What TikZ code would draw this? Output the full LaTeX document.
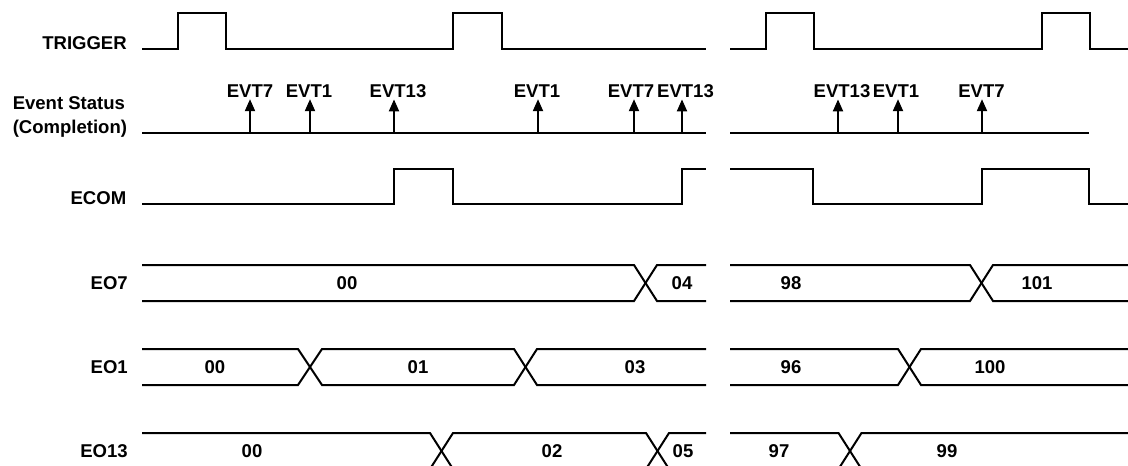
\documentclass[tikz,border=0pt]{standalone}
\usepackage{fontspec}
\setmainfont{Liberation Sans}
\usetikzlibrary{arrows.meta}
\begin{document}
\begin{tikzpicture}[x=0.75pt,y=-0.75pt,
  sig/.style={line width=1.5pt,line join=miter},
  txt/.style={font=\bfseries\fontsize{13.9}{16}\selectfont,inner sep=0pt},
  lbl/.style={txt,anchor=base east},
  lblw/.style={txt,anchor=base west},
  val/.style={txt,anchor=base},
  evarrow/.style={line width=1.5pt,-{Triangle[length=9pt,width=7.5pt]},shorten >=1.2pt}]
\useasboundingbox (0,0) rectangle (1128,465);
\clip (0,0) rectangle (1128,465);
% row labels
\node[lbl] (trig) at (127,49.3) {TRIGGER};
\node[lblw] (evs1) at (12.5,109.5) {Event Status};
\node[lblw] (evs2) at (12.5,133.5) {(Completion)};
\node[lbl] (ecom) at (126.5,204.3) {ECOM};
\node[lbl] (eo7) at (128,289.5) {EO7};
\node[lbl] (eo1) at (128,373.5) {EO1};
\node[lbl] (eo13) at (128,457.5) {EO13};
% TRIGGER
\draw[sig] (142,49) -- (178,49) -- (178,13) -- (226,13) -- (226,49) -- (453,49) -- (453,13) -- (502,13) -- (502,49) -- (706,49);
\draw[sig] (730,49) -- (766,49) -- (766,13) -- (814,13) -- (814,49) -- (1042,49) -- (1042,13) -- (1090,13) -- (1090,49) -- (1128,49);
% Event status
\draw[sig] (142,133) -- (706,133);
\draw[sig] (730,133) -- (1089,133);
\foreach \x/\lx/\t [count=\i] in {250/250/EVT7,310/309/EVT1,394/398/EVT13,538/537/EVT1,634/631/EVT7,682/685.5/EVT13,838/842/EVT13,898/896/EVT1,982/981.5/EVT7}{
  \node[val] (ev\i) at (\lx,97.3) {\t};
  \draw[evarrow] (\x,133) -- (\x,0 |- ev\i.south);
}
% ECOM
\draw[sig] (142,204) -- (394,204) -- (394,169) -- (453,169) -- (453,204) -- (682,204) -- (682,169) -- (706,169);
\draw[sig] (730,169) -- (813,169) -- (813,204) -- (982,204) -- (982,169) -- (1089,169) -- (1089,204) -- (1128,204);
% EO7
\draw[sig] (142,265) -- (634,265) -- (657,301) -- (706,301);
\draw[sig] (142,301) -- (634,301) -- (657,265) -- (706,265);
\draw[sig] (730,265) -- (970,265) -- (993,301) -- (1128,301);
\draw[sig] (730,301) -- (970,301) -- (993,265) -- (1128,265);
\node[val] (v7a) at (347,289.5) {00};
\node[val] (v7b) at (682,289.5) {04};
\node[val] (v7c) at (791,289.5) {98};
\node[val] (v7d) at (1037,289.5) {101};
% EO1
\draw[sig] (142,349) -- (298,349) -- (322,385) -- (514,385) -- (537,349) -- (706,349);
\draw[sig] (142,385) -- (298,385) -- (322,349) -- (514,349) -- (537,385) -- (706,385);
\draw[sig] (730,349) -- (898,349) -- (921,385) -- (1128,385);
\draw[sig] (730,385) -- (898,385) -- (921,349) -- (1128,349);
\node[val] (v1a) at (215,373.5) {00};
\node[val] (v1b) at (418,373.5) {01};
\node[val] (v1c) at (635,373.5) {03};
\node[val] (v1d) at (791,373.5) {96};
\node[val] (v1e) at (990,373.5) {100};
% EO13
\draw[sig] (142,433) -- (430,433) -- (453,469) -- (646,469) -- (669,433) -- (706,433);
\draw[sig] (142,469) -- (430,469) -- (453,433) -- (646,433) -- (669,469) -- (706,469);
\draw[sig] (730,433) -- (838.5,433) -- (861.5,469) -- (1128,469);
\draw[sig] (730,469) -- (838.5,469) -- (861.5,433) -- (1128,433);
\node[val] (v13a) at (252,457.5) {00};
\node[val] (v13b) at (552,457.5) {02};
\node[val] (v13c) at (683,457.5) {05};
\node[val] (v13d) at (779,457.5) {97};
\node[val] (v13e) at (947,457.5) {99};
\end{tikzpicture}
\end{document}
